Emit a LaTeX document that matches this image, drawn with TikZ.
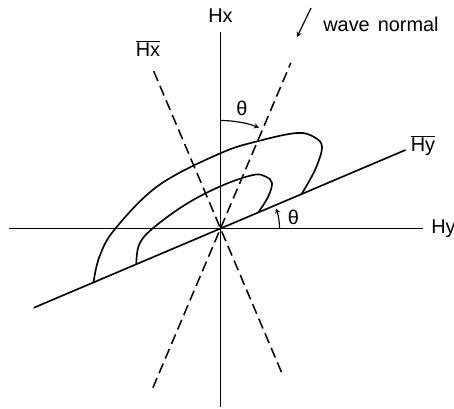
\documentclass[tikz,border=0pt]{standalone}
\usepackage{fontspec}
\setmainfont{Liberation Sans}
\usepackage{tikz}

\begin{document}
\begin{tikzpicture}[x=0.03cm, y=0.03cm, >=stealth,
    axis/.style={line width=1.4pt},
    dashaxis/.style={line width=1.3pt, dash pattern=on 9pt off 4.5pt},
    lbl/.style={font=\fontsize{17}{20}\selectfont, inner sep=0pt}]
    \useasboundingbox (-220.5,-179.5) rectangle (233.5,228.5);

    \coordinate (O) at (0,0);
    % field axes
    \coordinate (yl) at (-211.5,0);
    \coordinate (yr) at (202.5,0);
    \coordinate (xt) at (0,196.5);
    \coordinate (xb) at (0,-178.5);
    \draw[axis] (yl) -- (yr);
    \draw[axis] (xb) -- (xt);
    \node[lbl] (Hy) at (223,0) {Hy};
    \node[lbl] (Hx) at (0,213) {Hx};

    % rotated axes
    \coordinate (byl) at (203:203);
    \coordinate (byr) at (23:201);
    \draw[axis] (byl) -- (byr);
    \node[lbl] (barHy) at (202.5,83) {$\overline{\mbox{Hy}}$};

    \coordinate (wnt) at (67:180);
    \coordinate (wnb) at (247:173);
    \coordinate (bxt) at (113:175);
    \coordinate (bxb) at (293:156);
    \draw[dashaxis] (wnb) -- (wnt);
    \draw[dashaxis] (bxb) -- (bxt);
    \node[lbl] (barHx) at (-72.5,180) {$\overline{\mbox{Hx}}$};

    % wave normal
    \node[lbl] (wn) at (160.5,204.5) {wave\hspace{0.4em}normal};
    \coordinate (wa) at (90.5,220.5);
    \coordinate (wb) at (76.5,191.5);
    \draw[->, line width=1pt] (wa) -- (wb);

    % angles
    \draw[->, line width=1pt] (90:108) arc[start angle=90, end angle=69, radius=108];
    \node[lbl] (th1) at (21.5,120.5) {θ};
    \draw[->, line width=1pt] (0:59) arc[start angle=0, end angle=20, radius=59];
    \node[lbl] (th2) at (73,11.5) {θ};

    % polarization curves
    \draw[axis] plot[smooth, tension=0.6] coordinates {(203:138) (-121,-28) (-105.5,-0.5) (-62,43) (0.5,75.5) (40,88) (76.5,95.5) (93.5,91.5) (101.5,81.5) (94.5,58.5) (23:88)};
    \draw[axis] plot[smooth, tension=0.6] coordinates {(203:91.5) (-81.5,-16.5) (-68.5,-0.5) (-35,24) (0.5,42.5) (32.5,53.5) (45,52) (51.5,45.5) (47.5,31.5) (23:41)};
\end{tikzpicture}
\end{document}
